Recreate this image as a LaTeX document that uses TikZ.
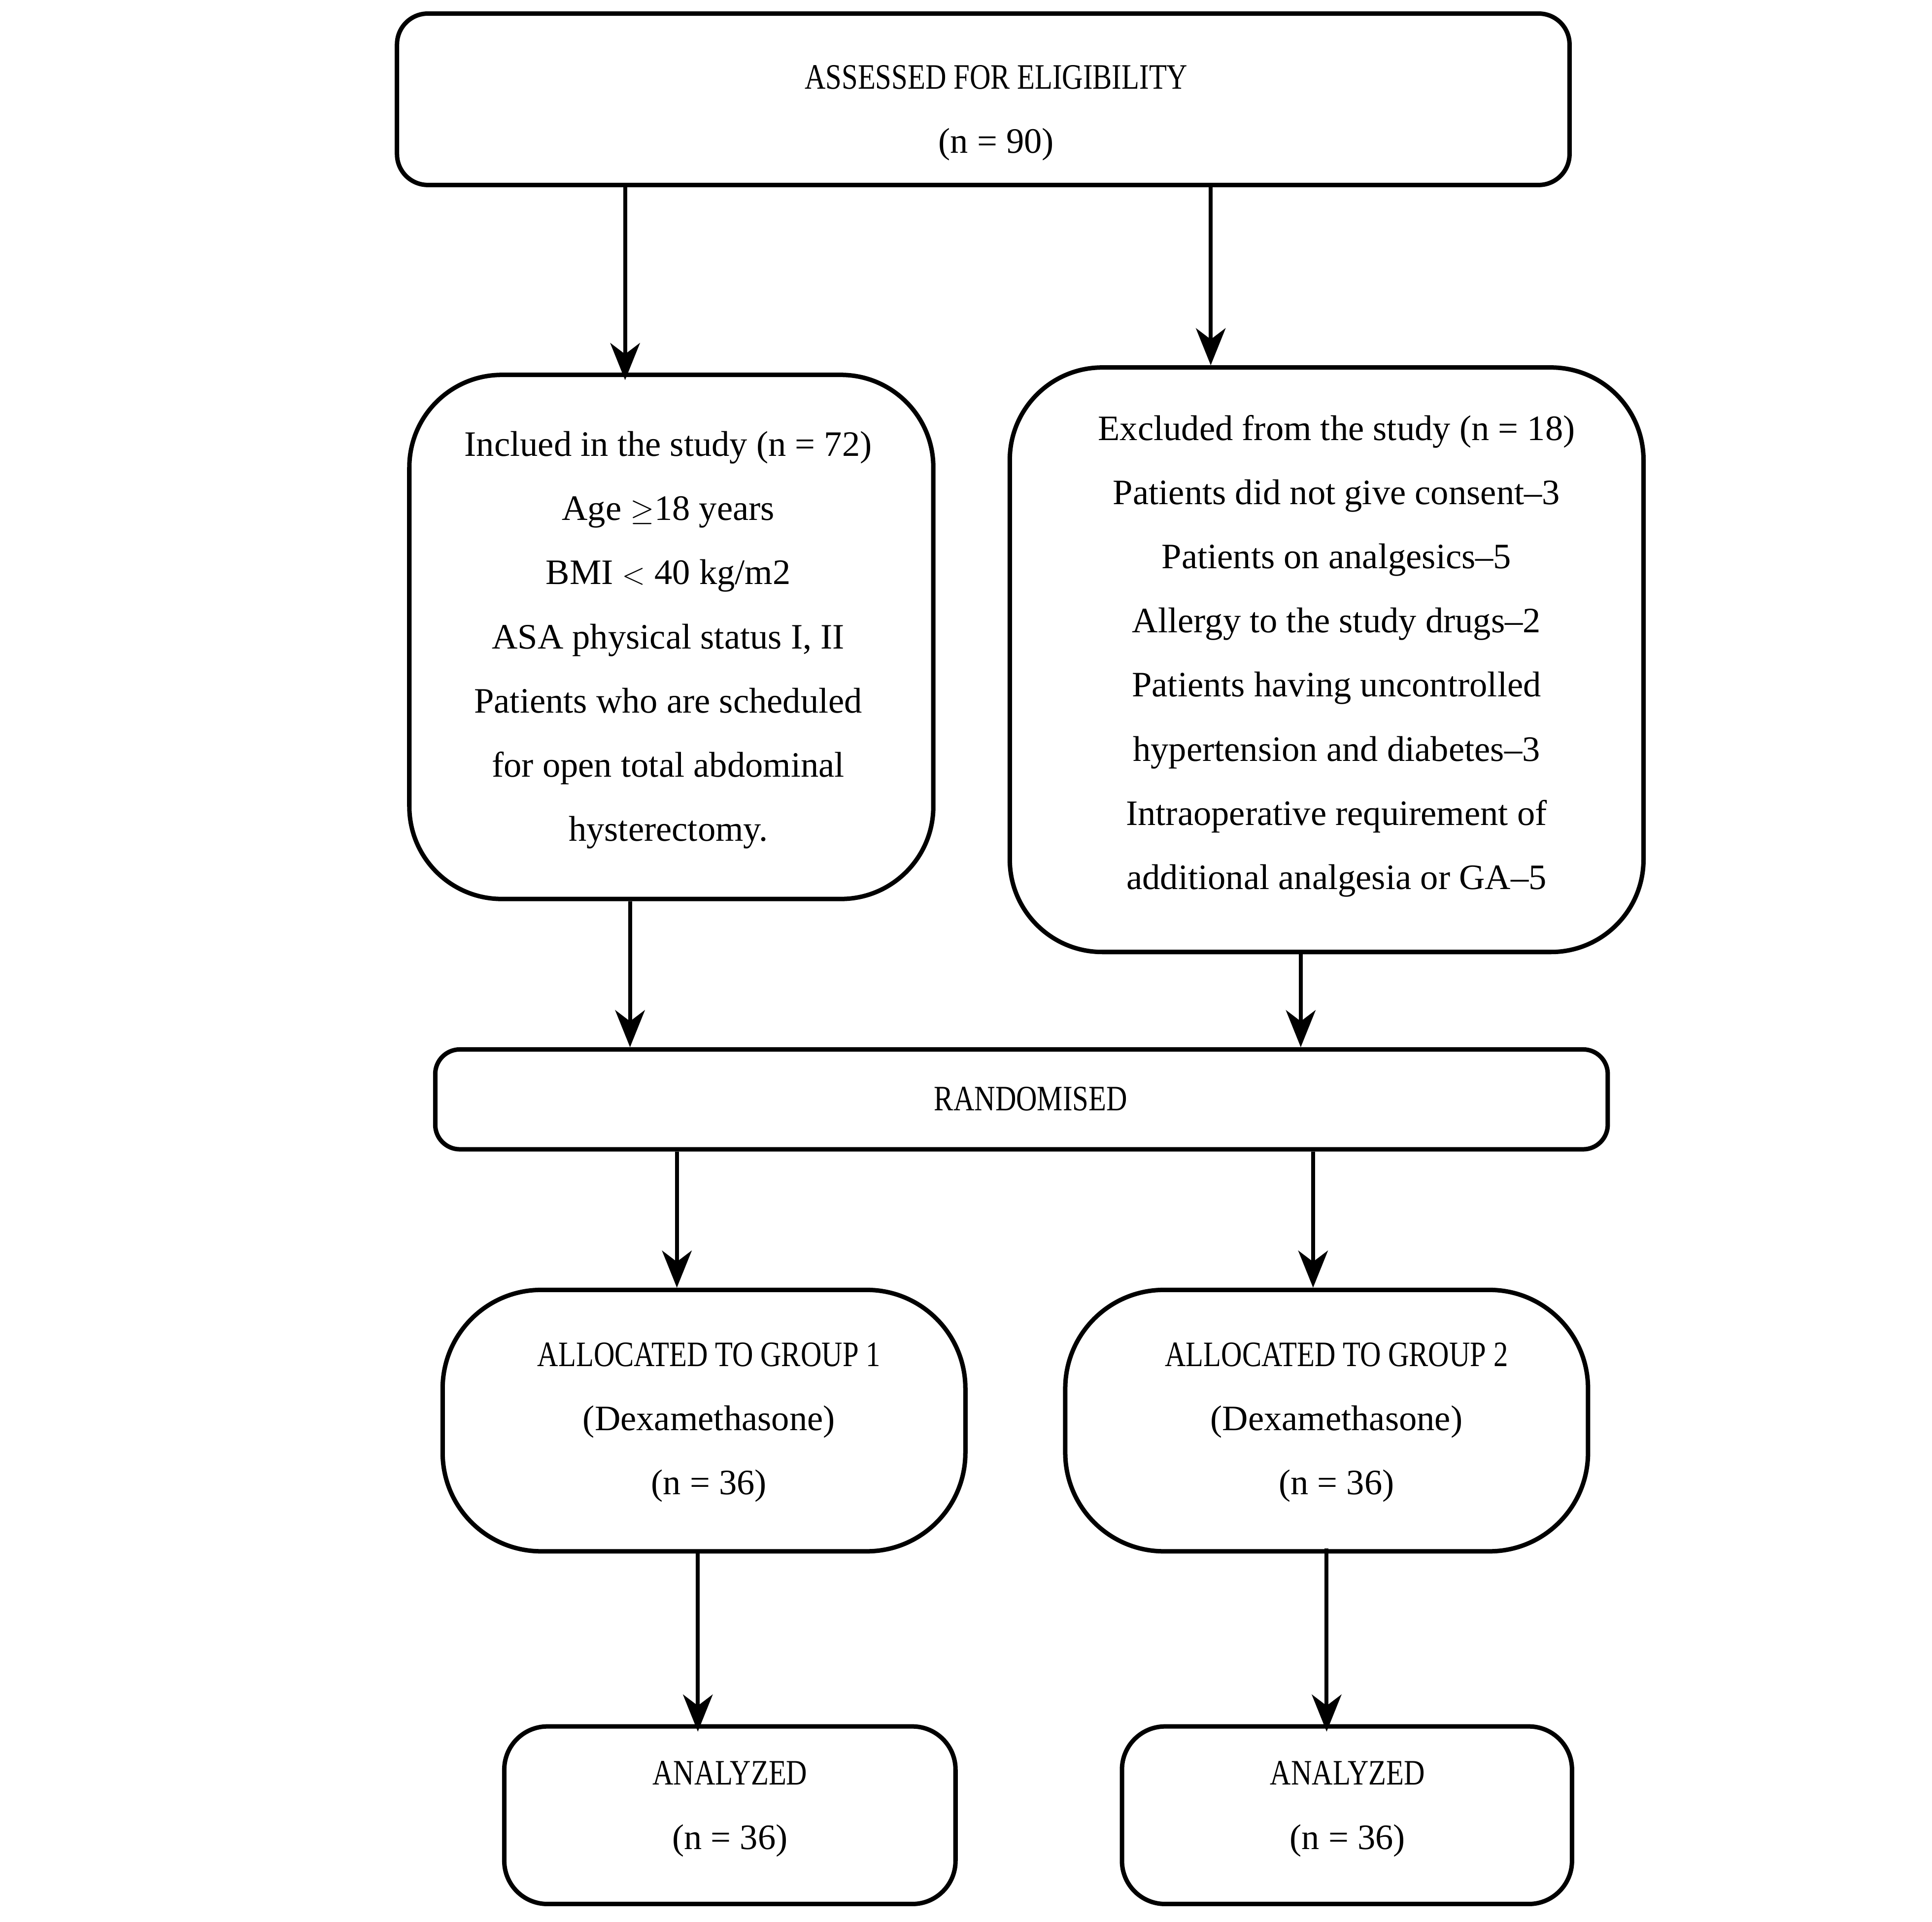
\documentclass[tikz,border=0pt]{standalone}
\usepackage{fontspec}
\setmainfont{Liberation Serif}
\usetikzlibrary{arrows.meta}
\newcommand{\cnd}[1]{\scalebox{0.81}[1]{#1}}
\begin{document}
\begin{tikzpicture}[x=1pt,y=-1pt,
  box/.style={draw, line width=3.6pt, inner sep=0pt, rounded corners=#1},
  txt/.style={font=\fontsize{29}{52}\selectfont, align=center, inner sep=0pt},
  arr/.style={line width=3.2pt, -{Stealth[length=30pt,width=24pt,inset=9pt]}}]
\useasboundingbox (0,0) rectangle (1567,1558.6);
% boxes
\node[box=25pt, minimum width=951pt, minimum height=139pt] (b1) at (797.5,80.5) {};
\node[box=75pt, minimum width=425pt, minimum height=425pt] (b2) at (544.5,516.5) {};
\node[box=75pt, minimum width=514pt, minimum height=474pt] (b3) at (1076,535) {};
\node[box=20pt, minimum width=951pt, minimum height=81pt] (b4) at (828.5,891.5) {};
\node[box=80pt, minimum width=424pt, minimum height=212pt] (b5) at (571,1152) {};
\node[box=80pt, minimum width=424pt, minimum height=212pt] (b6) at (1076,1152) {};
\node[box=35pt, minimum width=366pt, minimum height=144pt] (b7) at (592,1472) {};
\node[box=35pt, minimum width=365pt, minimum height=144pt] (b8) at (1092.5,1472) {};
% texts
\node[txt] (t1) at (808,91.5) {\cnd{ASSESSED FOR ELIGIBILITY}\\(n = 90)};
\node[txt] (t2) at (542,519) {Inclued in the study (n = 72)\\Age $\geq$18 years\\BMI $<$ 40 kg/m2\\ASA physical status I, II\\Patients who are scheduled\\for open total abdominal\\hysterectomy.};
\node[txt] (t3) at (1084,532) {Excluded from the study (n = 18)\\Patients did not give consent--3\\Patients on analgesics--5\\Allergy to the study drugs--2\\Patients having uncontrolled\\hypertension and diabetes--3\\Intraoperative requirement of\\additional analgesia or GA--5};
\node[txt] (t4) at (836,891) {\cnd{RANDOMISED}};
\node[txt] (t5) at (575,1153.5) {\cnd{ALLOCATED TO GROUP 1}\\(Dexamethasone)\\(n = 36)};
\node[txt] (t6) at (1084,1153.5) {\cnd{ALLOCATED TO GROUP 2}\\(Dexamethasone)\\(n = 36)};
\node[txt] (t7) at (592,1467) {\cnd{ANALYZED}\\(n = 36)};
\node[txt] (t8) at (1093,1467) {\cnd{ANALYZED}\\(n = 36)};
% arrows
\draw[arr] (b1.south -| 507,0) -- ([yshift=-6pt]b2.north -| 507,0);
\draw[arr] (b1.south -| 982,0) -- (b3.north -| 982,0);
\draw[arr] (b2.south -| 511,0) -- (b4.north -| 511,0);
\draw[arr] (b3.south -| 1055,0) -- (b4.north -| 1055,0);
\draw[arr] (b4.south -| 549,0) -- (b5.north -| 549,0);
\draw[arr] (b4.south -| 1065,0) -- (b6.north -| 1065,0);
\draw[arr] ([yshift=2pt]b5.south -| 566,0) -- ([yshift=-6pt]b7.north -| 566,0);
\draw[arr] ([yshift=4pt]b6.south -| 1076,0) -- ([yshift=-6pt]b8.north -| 1076,0);
\end{tikzpicture}
\end{document}
